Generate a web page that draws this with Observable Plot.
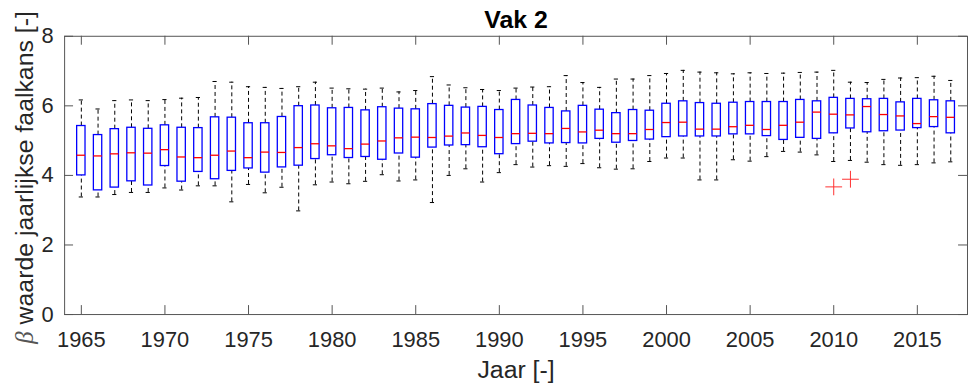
<!DOCTYPE html>
<html>
<head>
<meta charset="utf-8">
<script src="https://cdn.jsdelivr.net/npm/d3@7"></script>
<script src="https://cdn.jsdelivr.net/npm/@observablehq/plot@0.6"></script>
<style>
  html, body { margin: 0; padding: 0; background: #fff; }
  #wrap { width: 968px; height: 389px; overflow: hidden; }
</style>
</head>
<body>
<div id="wrap"></div>
<script>
// ---- data ----
const years = [1965,1966,1967,1968,1969,1970,1971,1972,1973,1974,1975,1976,1977,1978,1979,1980,1981,1982,1983,1984,1985,1986,1987,1988,1989,1990,1991,1992,1993,1994,1995,1996,1997,1998,1999,2000,2001,2002,2003,2004,2005,2006,2007,2008,2009,2010,2011,2012,2013,2014,2015,2016,2017];
const whiskerHigh = [6.17,5.91,6.15,6.17,6.15,6.18,6.22,6.24,6.70,6.68,6.55,6.53,6.50,6.55,6.68,6.51,6.49,6.48,6.51,6.40,6.44,6.84,6.60,6.52,6.47,6.44,6.51,6.54,6.55,6.87,6.67,6.53,6.77,6.77,6.87,6.93,7.02,6.97,6.95,6.92,6.95,6.93,6.94,6.96,6.97,7.02,6.68,6.67,6.76,6.80,6.81,6.85,6.73];
const q3 = [5.42,5.16,5.33,5.37,5.34,5.44,5.37,5.36,5.67,5.66,5.50,5.50,5.68,5.99,6.01,5.93,5.94,5.87,5.96,5.92,5.90,6.05,6.00,5.95,5.97,5.88,6.17,6.01,5.94,5.84,6.00,5.89,5.79,5.88,5.86,6.06,6.13,6.08,6.06,6.09,6.11,6.11,6.11,6.17,6.13,6.23,6.20,6.19,6.20,6.10,6.20,6.16,6.13];
const medians = [4.58,4.56,4.62,4.65,4.64,4.74,4.53,4.51,4.58,4.70,4.51,4.67,4.66,4.80,4.91,4.85,4.77,4.90,4.99,5.08,5.10,5.09,5.13,5.22,5.15,5.09,5.20,5.21,5.20,5.35,5.25,5.30,5.20,5.20,5.32,5.52,5.53,5.33,5.33,5.40,5.44,5.32,5.44,5.53,5.82,5.76,5.74,5.98,5.75,5.71,5.49,5.69,5.67];
const q1 = [4.00,3.57,3.65,3.83,3.71,4.27,3.82,4.10,3.89,4.13,4.20,4.08,4.23,4.28,4.47,4.58,4.50,4.53,4.45,4.63,4.51,4.80,4.86,4.87,4.81,4.61,4.90,4.97,4.92,4.93,4.92,5.05,4.94,4.99,5.03,5.10,5.12,5.12,5.12,5.18,5.18,5.13,5.02,5.08,5.05,5.21,5.35,5.24,5.27,5.29,5.36,5.39,5.21];
const whiskerLow = [3.38,3.38,3.45,3.51,3.51,3.64,3.58,3.70,3.70,3.24,3.74,3.50,3.66,2.98,3.73,3.81,3.76,3.83,4.02,3.84,3.87,3.22,4.00,4.19,3.81,4.08,4.31,4.24,4.28,4.26,4.34,4.22,4.18,4.19,4.40,4.50,4.50,3.87,3.87,4.45,4.41,4.54,4.69,4.67,4.59,4.40,4.43,4.38,4.31,4.29,4.31,4.36,4.39];
const outlierYears = [2010, 2011];
const outlierValues = [3.67, 3.89];
const xTicks = [1965,1970,1975,1980,1985,1990,1995,2000,2005,2010,2015];
const yTicks = [0,2,4,6,8];
const titleText = "Vak 2";
const xLabel = "Jaar [-]";
const yLabelSymbol = "β";
const yLabelRest = " waarde jaarlijkse faalkans [-]";

// ---- table for Plot ----
const rows = years.map((year, i) => ({
  year, hi: whiskerHigh[i], q3: q3[i], med: medians[i], q1: q1[i], lo: whiskerLow[i]
}));
const outliers = outlierYears.map((year, i) => ({year, value: outlierValues[i]}));

const W = 974, H = 389;
const mL = 64.5, mR = 1, mT = 36, mB = 73;
const frameW = W - mL - mR, frameH = H - mT - mB;
const tickLen = 9;
const axisColor = "#555555";
const textColor = "#262626";
const boxHalf = 0.25, capHalf = 0.125;

const chart = Plot.plot({
  width: W,
  height: H,
  marginLeft: mL,
  marginRight: mR,
  marginTop: mT,
  marginBottom: mB,
  style: {fontFamily: "'Liberation Sans', Arial, sans-serif", fontSize: "22px", color: textColor, background: "#fff"},
  x: {domain: [1964, 2018]},
  y: {domain: [0, 8]},
  marks: [
    // whiskers
    Plot.ruleX(rows, {x: "year", y1: "q3", y2: "hi", stroke: "#000", strokeWidth: 1, strokeDasharray: "4,3"}),
    Plot.ruleX(rows, {x: "year", y1: "lo", y2: "q1", stroke: "#000", strokeWidth: 1, strokeDasharray: "4,3"}),
    // caps
    Plot.ruleY(rows, {y: "hi", x1: d => d.year - capHalf, x2: d => d.year + capHalf, stroke: "#000", strokeWidth: 1}),
    Plot.ruleY(rows, {y: "lo", x1: d => d.year - capHalf, x2: d => d.year + capHalf, stroke: "#000", strokeWidth: 1}),
    // boxes
    Plot.rect(rows, {x1: d => d.year - boxHalf, x2: d => d.year + boxHalf, y1: "q1", y2: "q3", fill: "none", stroke: "#0000ff", strokeWidth: 1.3}),
    // medians
    Plot.ruleY(rows, {y: "med", x1: d => d.year - boxHalf, x2: d => d.year + boxHalf, stroke: "#ff0000", strokeWidth: 1.3}),
    // outliers
    Plot.dot(outliers, {x: "year", y: "value", symbol: "plus", r: 5.5, stroke: "#ff3030", strokeWidth: 1}),
    // frame
    Plot.frame({stroke: axisColor, strokeWidth: 1}),
    // inward ticks
    Plot.tickX(xTicks, {x: d => d, insetTop: frameH - tickLen, stroke: axisColor}),
    Plot.tickX(xTicks, {x: d => d, insetBottom: frameH - tickLen, stroke: axisColor}),
    Plot.tickY(yTicks, {y: d => d, insetRight: frameW - tickLen, stroke: axisColor}),
    Plot.tickY(yTicks, {y: d => d, insetLeft: frameW - tickLen, stroke: axisColor}),
    // tick labels
    Plot.axisX({ticks: xTicks, tickSize: 0, tickPadding: 17, fontSize: 22, tickFormat: d => String(d), color: textColor, label: null}),
    Plot.axisY({ticks: yTicks, tickSize: 0, tickPadding: 11, fontSize: 22, tickFormat: d => String(d), color: textColor, label: null}),
    // title and labels
    Plot.text([titleText], {frameAnchor: "top", lineAnchor: "bottom", dy: -8, fontSize: 25, fontWeight: "bold", fill: "#000"}),
    Plot.text([xLabel], {frameAnchor: "bottom", lineAnchor: "bottom", dy: 64, fontSize: 25, fill: textColor}),
    Plot.text([yLabelSymbol + yLabelRest], {frameAnchor: "left", textAnchor: "middle", lineAnchor: "bottom", rotate: -90, dx: -31.5, dy: 2, fontSize: 25, fill: textColor})
  ]
});

document.getElementById("wrap").appendChild(chart);

// italic beta in the y label
d3.select(chart).selectAll("text")
  .filter(function() { return this.textContent === yLabelSymbol + yLabelRest; })
  .each(function() {
    const t = d3.select(this);
    t.text(null);
    t.append("tspan").attr("font-style", "italic").attr("font-family", "'Liberation Serif', serif").attr("fill", "#555").text(yLabelSymbol);
    t.append("tspan").text(yLabelRest);
  });
</script>
</body>
</html>
